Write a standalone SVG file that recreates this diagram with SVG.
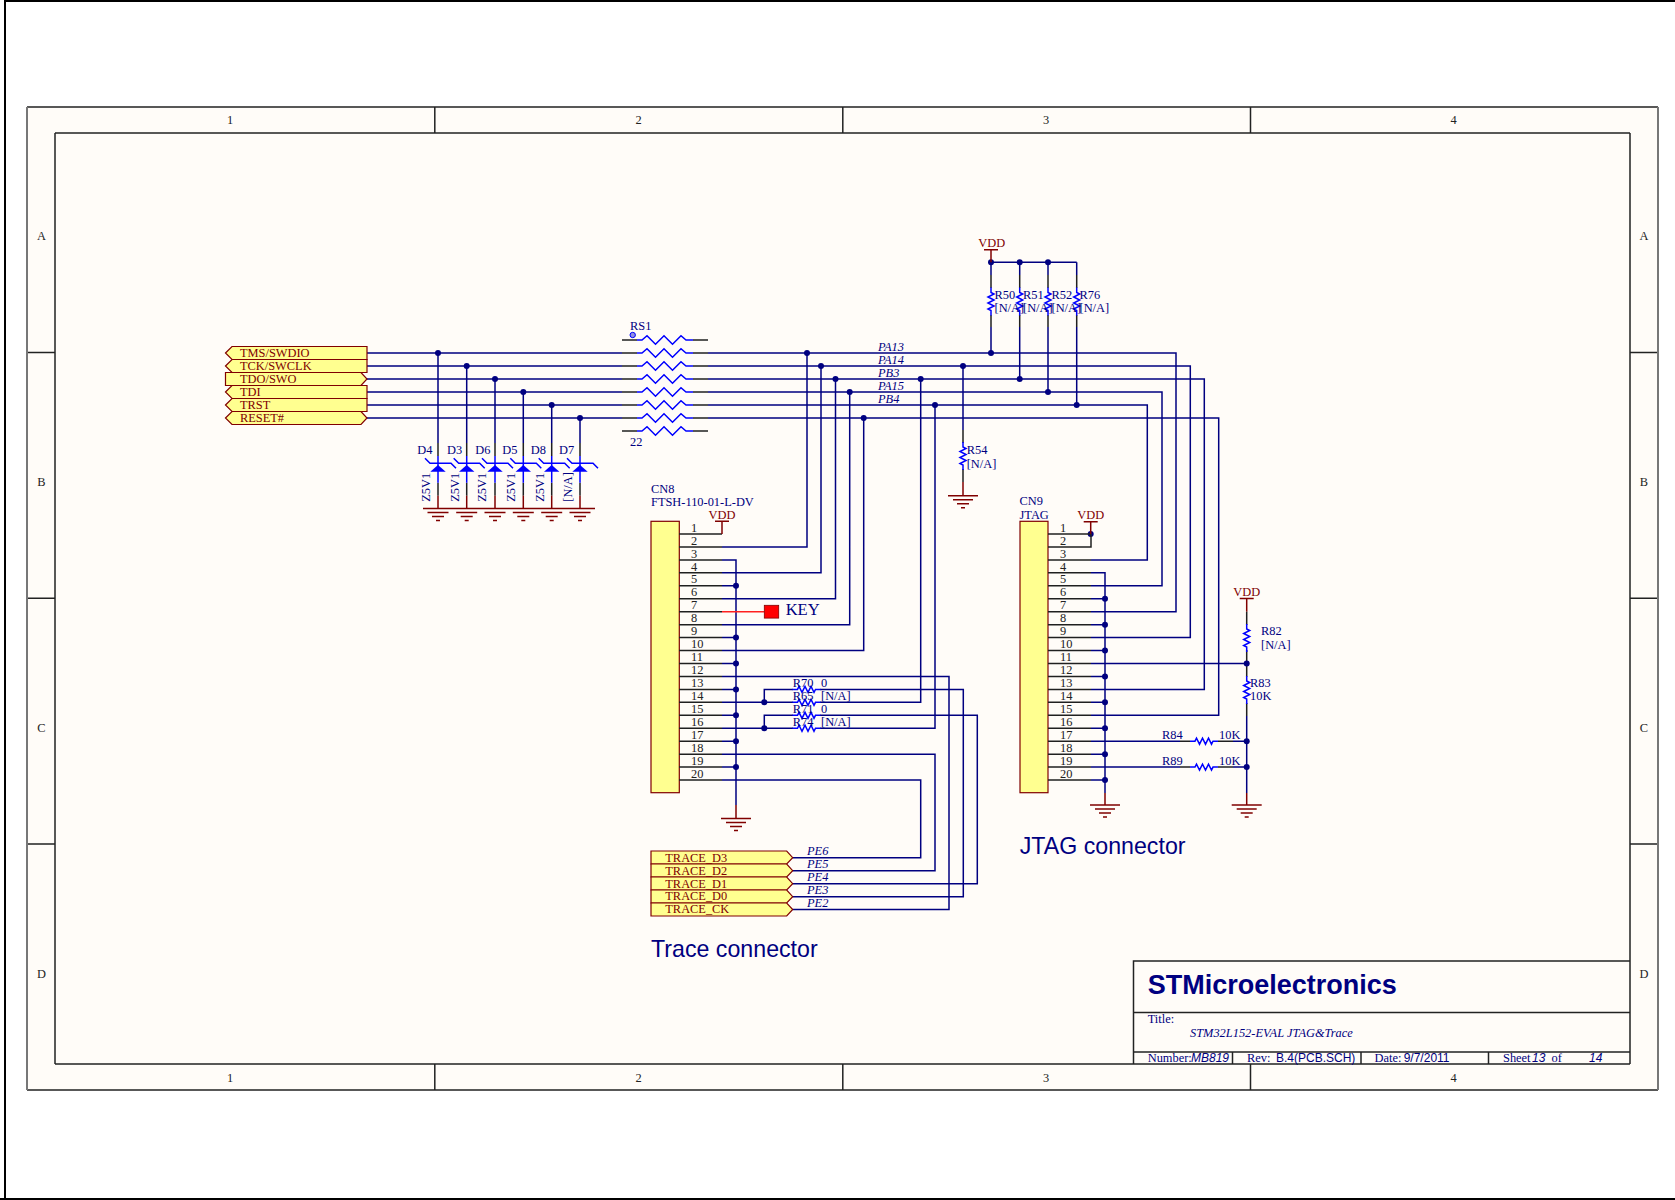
<svg xmlns="http://www.w3.org/2000/svg" xmlns:xlink="http://www.w3.org/1999/xlink" width="1675" height="1200" viewBox="0 0 1675 1200">
<style>
.w{fill:none;stroke:#000080;stroke-width:1.5}
.d{fill:none;stroke:#202020;stroke-width:1.5}
.b{fill:none;stroke:#0000ff;stroke-width:1.5}
.r{fill:none;stroke:#800000;stroke-width:1.5}
.fr{fill:none;stroke:#222;stroke-width:1.5}
.gr{fill:none;stroke:#777;stroke-width:2}
text{font-family:"Liberation Serif",serif;font-size:12.4px;fill:#000080}
.k{fill:#222}
.m{fill:#800000}
.i{font-style:italic}
.s{font-family:"Liberation Sans",Arial,sans-serif;font-size:12px}
.big{font-family:"Liberation Sans",Arial,sans-serif;font-size:23.2px}
.lab{fill:#ffff90;stroke:#800000;stroke-width:1.2}
.mid{text-anchor:middle}
</style>
<defs>
<circle id="j" r="3" fill="#000080"/>
<g id="gnd"><path class="r" d="M-15 0H15M-10 4H10M-6 8H6M-2 12H2"/></g>
<g id="gnds"><path class="r" d="M-10.500 4H10.500M-6 8H6M-2 12H2"/></g>
<path id="zig" class="b" d="M-14 0H-9l1.500-3 3 6 3-6 3 6 3-6 3 6 1.500-3H14"/>
<g id="rs"><path class="d" d="M0 0H15M71 0H86"/><path class="b" d="M15 0H20l5-4.300 8.500 8.600 8.500-8.600 8.500 8.600 8.500-8.600 5 4.300H71"/></g>
<g id="zd"><path class="d" d="M0-52V-39M0-12.300V0.700"/><path class="b" d="M0-39V-12.300M-13-36.700-8-31.700H13L18-26.700"/><path fill="#0000ff" d="M0-30-7.700-23.300H7.700Z"/><path class="r" d="M0 0.700V13.500"/></g>
</defs>
<rect width="1675" height="1200" fill="#fff"/>
<path fill="none" stroke="#000" stroke-width="2" d="M5 1200V1H1675M0 1199H1675"/>
<g id="sheet">
<rect x="27" y="107" width="1631" height="983" fill="#fffcf8"/>
<path class="fr" d="M27 107H1658M27 1090H1658M55 133H1630M55 1064H1630M434.800 107V133M842.800 107V133M1250.500 107V133M434.800 1064V1090M842.800 1064V1090M1250.500 1064V1090M27 352.500H55M27 598.300H55M27 844H55M1630 352.500H1658M1630 598.300H1658M1630 844H1658M55 133V1064M1630 133V1064"/>
<path class="gr" d="M27 107V1090M1658 107V1090"/>
<g class="k"><text class="k mid" x="230" y="124">1</text><text class="k mid" x="638.700" y="124">2</text><text class="k mid" x="1046" y="124">3</text><text class="k mid" x="1453.500" y="124">4</text><text class="k mid" x="230" y="1082">1</text><text class="k mid" x="638.700" y="1082">2</text><text class="k mid" x="1046" y="1082">3</text><text class="k mid" x="1453.500" y="1082">4</text><text class="k mid" x="41.500" y="240">A</text><text class="k mid" x="41.500" y="485.500">B</text><text class="k mid" x="41.500" y="732">C</text><text class="k mid" x="41.500" y="978">D</text><text class="k mid" x="1644" y="240">A</text><text class="k mid" x="1644" y="485.500">B</text><text class="k mid" x="1644" y="732">C</text><text class="k mid" x="1644" y="978">D</text></g>
</g>
<g id="connectors">
<path class="w" d="M367 353H622M708 353H1176V611.700H1091"/>
<path class="w" d="M367 366H622M708 366H1190.300V637.600H1091"/>
<path class="w" d="M367 379H622M708 379H1204.300V689.400H1091"/>
<path class="w" d="M367 392H622M708 392H1162V585.800H1091"/>
<path class="w" d="M367 405H622M708 405H1147.300V559.900H1091"/>
<path class="w" d="M367 418H622M708 418H1218.700V715.300H1091"/>
<path class="w" d="M438 353V443M466.700 366V443M495 379V443M523.300 392V443M551.700 405V443M580 418V443"/>
<path class="w" d="M722 547H807V353M722 572.850H821V366M722 598.750H835.500V379M722 624.650H849.700V392M722 650.550H863.700V418"/>
<path class="w" d="M722 559.900H736V805M722 585.800H736M722 637.600H736M722 663.500H736M722 689.400H736M722 715.300H736M722 741.200H736M722 767.100H736"/>
<path class="w" d="M722 676.450H949V909.500H792.700"/>
<path class="w" d="M722 702.350H793M820 702.350H920.700V379"/>
<path class="w" d="M722 728.250H793M820 728.250H935V405"/>
<path class="w" d="M764.300 702.350V689.400H793M820 689.400H963.300V896.700H792.700"/>
<path class="w" d="M764.300 728.250V715.300H793M820 715.300H977.300V883.700H792.700"/>
<path class="w" d="M722 754.150H935V870.700H792.700M722 780.050H920.700V857.700H792.700"/>
<path class="w" d="M991 262.300H1076.700M991 262.300V275M991 327V353M1019.700 262.300V275M1019.700 327V379M1048 262.300V275M1048 327V392M1076.700 262.300V275M1076.700 327V405"/>
<path class="w" d="M963 366V430"/>
<path class="w" d="M1091 572.850H1105V793M1091 598.750H1105M1091 624.650H1105M1091 650.550H1105M1091 676.450H1105M1091 702.350H1105M1091 728.250H1105M1091 754.150H1105M1091 780.050H1105"/>
<path class="w" d="M1091 663.500H1246.700M1091 741.200H1180M1233 741.200H1246.700M1091 767.100H1180M1233 767.100H1246.700M1246.700 716V793"/>
<path class="d" d="M1246.700 650V676.700M1246.700 703V716"/>
<path class="r" d="M736 805V818.500M1105 793V805M1246.700 793V805"/>
<g id="junctions">
<use href="#j" x="438" y="353"/><use href="#j" x="466.700" y="366"/><use href="#j" x="495" y="379"/><use href="#j" x="523.300" y="392"/><use href="#j" x="551.700" y="405"/><use href="#j" x="580" y="418"/>
<use href="#j" x="807" y="353"/><use href="#j" x="821" y="366"/><use href="#j" x="835.500" y="379"/><use href="#j" x="849.700" y="392"/><use href="#j" x="863.700" y="418"/>
<use href="#j" x="920.700" y="379"/><use href="#j" x="935" y="405"/><use href="#j" x="963" y="366"/>
<use href="#j" x="991" y="353"/><use href="#j" x="1019.700" y="379"/><use href="#j" x="1048" y="392"/><use href="#j" x="1076.700" y="405"/>
<use href="#j" x="991" y="262.300"/><use href="#j" x="1019.700" y="262.300"/><use href="#j" x="1048" y="262.300"/>
<use href="#j" x="736" y="585.800"/><use href="#j" x="736" y="637.600"/><use href="#j" x="736" y="663.500"/><use href="#j" x="736" y="689.400"/><use href="#j" x="736" y="715.300"/><use href="#j" x="736" y="741.200"/><use href="#j" x="736" y="767.100"/>
<use href="#j" x="764.300" y="702.350"/><use href="#j" x="764.300" y="728.250"/>
<use href="#j" x="1105" y="598.750"/><use href="#j" x="1105" y="624.650"/><use href="#j" x="1105" y="650.550"/><use href="#j" x="1105" y="676.450"/><use href="#j" x="1105" y="702.350"/><use href="#j" x="1105" y="728.250"/><use href="#j" x="1105" y="754.150"/><use href="#j" x="1105" y="780.050"/>
<use href="#j" x="1090.700" y="534"/><use href="#j" x="1246.700" y="663.500"/><use href="#j" x="1246.700" y="741.200"/><use href="#j" x="1246.700" y="767.100"/>
</g>
</g>
<g id="ports">
<path class="lab" d="M225.500 353 232 346.500H367V359.500H232Z"/><text class="m" x="240" y="357">TMS/SWDIO</text>
<path class="lab" d="M225.500 366 232 359.500H367V372.500H232Z"/><text class="m" x="240" y="370">TCK/SWCLK</text>
<path class="lab" d="M225.500 372.500H361L367 379 361 385.500H225.500Z"/><text class="m" x="240" y="383">TDO/SWO</text>
<path class="lab" d="M225.500 392 232 385.500H367V398.500H232Z"/><text class="m" x="240" y="396">TDI</text>
<path class="lab" d="M225.500 405 232 398.500H367V411.500H232Z"/><text class="m" x="240" y="409">TRST</text>
<path class="lab" d="M225.500 418 232 411.500H361L367 418 361 424.500H232Z"/><text class="m" x="240" y="422">RESET#</text>
<path class="lab" d="M651 851H786.700L792.700 857.700 786.700 864H651Z"/><text class="m" x="665.300" y="861.800">TRACE_D3</text>
<path class="lab" d="M651 864H786.700L792.700 870.700 786.700 877H651Z"/><text class="m" x="665.300" y="874.800">TRACE_D2</text>
<path class="lab" d="M651 877H786.700L792.700 883.700 786.700 890H651Z"/><text class="m" x="665.300" y="887.800">TRACE_D1</text>
<path class="lab" d="M651 890H786.700L792.700 896.700 786.700 903H651Z"/><text class="m" x="665.300" y="900.300">TRACE_D0</text>
<path class="lab" d="M651 903H786.700L792.700 909.500 786.700 916H651Z"/><text class="m" x="665.300" y="913.300">TRACE_CK</text>
</g>
<g id="RS1">
<use href="#rs" x="622" y="340"/><use href="#rs" x="622" y="353"/><use href="#rs" x="622" y="366"/><use href="#rs" x="622" y="379"/><use href="#rs" x="622" y="392"/><use href="#rs" x="622" y="405"/><use href="#rs" x="622" y="418"/><use href="#rs" x="622" y="431"/>
<circle cx="632.700" cy="335" r="2.700" fill="#9090e0" stroke="#0000ff" stroke-width="1"/>
<text x="630" y="330">RS1</text><text x="630" y="446">22</text>
</g>
<g id="diodes">
<use href="#zd" x="438" y="495"/><use href="#zd" x="466.700" y="495"/><use href="#zd" x="495" y="495"/><use href="#zd" x="523.300" y="495"/><use href="#zd" x="551.700" y="495"/><use href="#zd" x="580" y="495"/>
<path class="r" d="M423 508.500H595"/>
<use href="#gnds" x="438" y="508.500"/><use href="#gnds" x="466.700" y="508.500"/><use href="#gnds" x="495" y="508.500"/><use href="#gnds" x="523.300" y="508.500"/><use href="#gnds" x="551.700" y="508.500"/><use href="#gnds" x="580" y="508.500"/>
<text x="417.300" y="454">D4</text><text x="447" y="454">D3</text><text x="475.300" y="454">D6</text><text x="502.300" y="454">D5</text><text x="530.700" y="454">D8</text><text x="559" y="454">D7</text>
<text transform="rotate(-90 430.500 501.700)" x="430.500" y="501.700">Z5V1</text>
<text transform="rotate(-90 459 501.700)" x="459" y="501.700">Z5V1</text>
<text transform="rotate(-90 486.500 501.700)" x="486.500" y="501.700">Z5V1</text>
<text transform="rotate(-90 515 501.700)" x="515" y="501.700">Z5V1</text>
<text transform="rotate(-90 544 501.700)" x="544" y="501.700">Z5V1</text>
<text transform="rotate(-90 572.500 501.700)" x="572.500" y="501.700">[N/A]</text>
</g>
<g id="CN8">
<rect x="651" y="521.300" width="28.300" height="271.400" class="lab"/>
<path class="d" d="M679 534H722M679 546.950H722M679 559.900H722M679 572.850H722M679 585.800H722M679 598.750H722M679 611.700H722M679 624.650H722M679 637.600H722M679 650.550H722M679 663.500H722M679 676.450H722M679 689.400H722M679 702.350H722M679 715.300H722M679 728.250H722M679 741.200H722M679 754.150H722M679 767.100H722M679 780.050H722"/>
<path class="r" d="M722 534V521.300M715 521.300H729"/>
<text class="m mid" x="722" y="519">VDD</text>
<text x="651" y="492.700">CN8</text><text x="651" y="505.700">FTSH-110-01-L-DV</text>
<g class="k">
<text class="k" x="691" y="531.500">1</text><text class="k" x="691" y="544.500">2</text><text class="k" x="691" y="557.500">3</text><text class="k" x="691" y="570.500">4</text><text class="k" x="691" y="582.500">5</text><text class="k" x="691" y="596">6</text><text class="k" x="691" y="609">7</text><text class="k" x="691" y="622">8</text><text class="k" x="691" y="635">9</text><text class="k" x="691" y="648">10</text><text class="k" x="691" y="661">11</text><text class="k" x="691" y="674">12</text><text class="k" x="691" y="687">13</text><text class="k" x="691" y="700">14</text><text class="k" x="691" y="713">15</text><text class="k" x="691" y="726">16</text><text class="k" x="691" y="739">17</text><text class="k" x="691" y="752">18</text><text class="k" x="691" y="765">19</text><text class="k" x="691" y="778">20</text>
</g>
<use href="#gnd" x="736" y="818.500"/>
</g>
<g id="KEY">
<path d="M722 611.700H764.300" fill="none" stroke="#ff2020" stroke-width="1.500"/>
<rect x="764.300" y="605.300" width="14.400" height="12.800" fill="#ff0000" stroke="#800000" stroke-width="0.800"/>
<text x="785.700" y="615" style="font-size:16.500px">KEY</text>
</g>
<g id="trace-resistors">
<use href="#zig" x="806.500" y="689.400"/><use href="#zig" x="806.500" y="702.350"/><use href="#zig" x="806.500" y="715.300"/><use href="#zig" x="806.500" y="728.250"/>
<text x="792.700" y="686.700">R70</text><text x="821" y="686.700">0</text>
<text x="792.700" y="700">R65</text><text x="821" y="700">[N/A]</text>
<text x="792.700" y="713">R71</text><text x="821" y="713">0</text>
<text x="792.700" y="726">R74</text><text x="821" y="726">[N/A]</text>
</g>
<g id="pullups">
<path class="r" d="M991 262.300V249.700M984 249.700H998"/><text class="m mid" x="991.700" y="246.700">VDD</text>
<path class="d" d="M991 275V288M991 315V327M1019.700 275V288M1019.700 315V327M1048 275V288M1048 315V327M1076.700 275V288M1076.700 315V327"/>
<use href="#zig" transform="translate(991 301.500) rotate(90)"/><use href="#zig" transform="translate(1019.700 301.500) rotate(90)"/><use href="#zig" transform="translate(1048 301.500) rotate(90)"/><use href="#zig" transform="translate(1076.700 301.500) rotate(90)"/>
<text x="994.500" y="299">R50</text><text x="994.500" y="312">[N/A]</text>
<text x="1023" y="299">R51</text><text x="1023" y="312">[N/A]</text>
<text x="1051.500" y="299">R52</text><text x="1051.500" y="312">[N/A]</text>
<text x="1079.500" y="299">R76</text><text x="1079.500" y="312">[N/A]</text>
</g>
<g id="R54">
<path class="d" d="M963 430V443M963 469V482"/><path class="r" d="M963 482V495.700"/>
<use href="#zig" transform="translate(963 456) rotate(90)"/>
<use href="#gnd" x="963" y="495.700"/>
<text x="966.700" y="454">R54</text><text x="966.700" y="468">[N/A]</text>
</g>
<g id="nets">
<text class="i" x="878" y="350.700">PA13</text><text class="i" x="878" y="363.700">PA14</text><text class="i" x="878" y="376.700">PB3</text><text class="i" x="878" y="389.700">PA15</text><text class="i" x="878" y="402.700">PB4</text>
<text class="i" x="807" y="855">PE6</text><text class="i" x="807" y="868">PE5</text><text class="i" x="807" y="881">PE4</text><text class="i" x="807" y="894">PE3</text><text class="i" x="807" y="907">PE2</text>
</g>
<g id="CN9">
<rect x="1020" y="521.300" width="28" height="271.400" class="lab"/>
<path class="d" d="M1048 534H1091M1048 546.950H1091V534M1048 559.900H1091M1048 572.850H1091M1048 585.800H1091M1048 598.750H1091M1048 611.700H1091M1048 624.650H1091M1048 637.600H1091M1048 650.550H1091M1048 663.500H1091M1048 676.450H1091M1048 689.400H1091M1048 702.350H1091M1048 715.300H1091M1048 728.250H1091M1048 741.200H1091M1048 754.150H1091M1048 767.100H1091M1048 780.050H1091"/>
<path class="r" d="M1090.700 534V521.700M1083.700 521.700H1097.700"/>
<text class="m mid" x="1090.700" y="518.700">VDD</text>
<text x="1019.500" y="505">CN9</text><text x="1019.500" y="518.700">JTAG</text>
<g class="k">
<text class="k" x="1060" y="531.500">1</text><text class="k" x="1060" y="544.500">2</text><text class="k" x="1060" y="557.500">3</text><text class="k" x="1060" y="570.500">4</text><text class="k" x="1060" y="582.500">5</text><text class="k" x="1060" y="596">6</text><text class="k" x="1060" y="609">7</text><text class="k" x="1060" y="622">8</text><text class="k" x="1060" y="635">9</text><text class="k" x="1060" y="648">10</text><text class="k" x="1060" y="661">11</text><text class="k" x="1060" y="674">12</text><text class="k" x="1060" y="687">13</text><text class="k" x="1060" y="700">14</text><text class="k" x="1060" y="713">15</text><text class="k" x="1060" y="726">16</text><text class="k" x="1060" y="739">17</text><text class="k" x="1060" y="752">18</text><text class="k" x="1060" y="765">19</text><text class="k" x="1060" y="778">20</text>
</g>
<use href="#gnd" x="1105" y="805"/>
</g>
<g id="jtag-pull">
<path class="r" d="M1246.700 611.700V598.500M1239.700 598.500H1253.700"/><text class="m mid" x="1246.700" y="596">VDD</text>
<path class="d" d="M1246.700 611.700V625M1180 741.200H1190M1218 741.200H1233M1180 767.100H1190M1218 767.100H1233"/>
<use href="#zig" transform="translate(1246.700 638) rotate(90)"/>
<use href="#zig" transform="translate(1246.700 690) rotate(90)"/>
<use href="#zig" x="1204" y="741.200"/><use href="#zig" x="1204" y="767.100"/>
<use href="#gnd" x="1246.700" y="805"/>
<text x="1261" y="634.700">R82</text><text x="1261" y="648.700">[N/A]</text>
<text x="1250" y="686.700">R83</text><text x="1250" y="699.700">10K</text>
<text x="1162" y="738.700">R84</text><text x="1219" y="738.700">10K</text>
<text x="1162" y="765">R89</text><text x="1219" y="765">10K</text>
</g>
<g id="captions">
<text class="big" x="651" y="956.700">Trace connector</text>
<text class="big" x="1019.700" y="854">JTAG connector</text>
</g>
<g id="title-block">
<path class="fr" d="M1133.500 1064V961H1630M1133.500 1012.500H1630M1133.500 1052H1630M1232.500 1052V1064M1361 1052V1064M1488.500 1052V1064"/>
<text class="s" x="1147.700" y="994" style="font-size:27px;font-weight:700">STMicroelectronics</text>
<text x="1147.700" y="1022.700">Title:</text>
<text class="i" x="1190" y="1036.700">STM32L152-EVAL JTAG&amp;Trace</text>
<text x="1147.700" y="1061.700">Number:</text><text class="s i" x="1191" y="1061.700">MB819</text>
<text x="1247" y="1061.700">Rev:</text><text class="s" x="1276" y="1061.700">B.4(PCB.SCH)</text>
<text x="1374.600" y="1061.700">Date:</text><text class="s" x="1403.700" y="1061.700">9/7/2011</text>
<text x="1503" y="1061.700">Sheet</text><text class="s i" x="1532" y="1061.700">13</text><text x="1551.600" y="1061.700">of</text><text class="s i" x="1589" y="1061.700">14</text>
</g>
</svg>
